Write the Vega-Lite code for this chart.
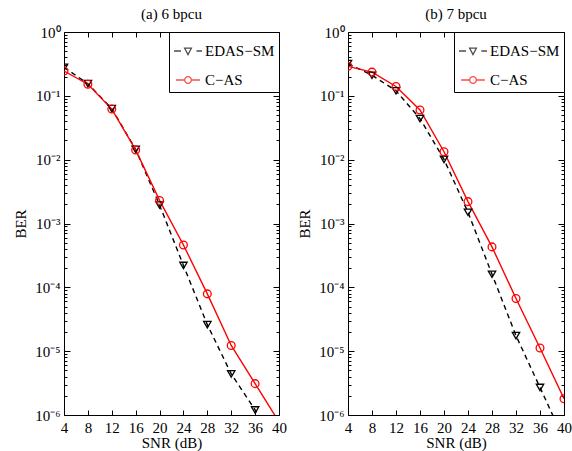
{
  "$schema": "https://vega.github.io/schema/vega-lite/v6.json",
  "padding": {"left": 13, "top": 6, "right": 10, "bottom": 0},
  "spacing": 10,
  "data": {"values": [
    {"panel": "a", "series": "EDAS−SM", "snr": 4, "ber": 0.28},
    {"panel": "a", "series": "EDAS−SM", "snr": 8, "ber": 0.155},
    {"panel": "a", "series": "EDAS−SM", "snr": 12, "ber": 0.063},
    {"panel": "a", "series": "EDAS−SM", "snr": 16, "ber": 0.0145},
    {"panel": "a", "series": "EDAS−SM", "snr": 20, "ber": 0.00195},
    {"panel": "a", "series": "EDAS−SM", "snr": 24, "ber": 0.00022},
    {"panel": "a", "series": "EDAS−SM", "snr": 28, "ber": 0.000026},
    {"panel": "a", "series": "EDAS−SM", "snr": 32, "ber": 0.0000044},
    {"panel": "a", "series": "EDAS−SM", "snr": 36, "ber": 0.0000012},
    {"panel": "a", "series": "EDAS−SM", "snr": 40, "ber": 0.00000033},
    {"panel": "a", "series": "C−AS", "snr": 4, "ber": 0.245},
    {"panel": "a", "series": "C−AS", "snr": 8, "ber": 0.152},
    {"panel": "a", "series": "C−AS", "snr": 12, "ber": 0.062},
    {"panel": "a", "series": "C−AS", "snr": 16, "ber": 0.0142},
    {"panel": "a", "series": "C−AS", "snr": 20, "ber": 0.0023},
    {"panel": "a", "series": "C−AS", "snr": 24, "ber": 0.00046},
    {"panel": "a", "series": "C−AS", "snr": 28, "ber": 0.000079},
    {"panel": "a", "series": "C−AS", "snr": 32, "ber": 0.0000123},
    {"panel": "a", "series": "C−AS", "snr": 36, "ber": 0.0000031},
    {"panel": "a", "series": "C−AS", "snr": 40, "ber": 0.00000078},
    {"panel": "b", "series": "EDAS−SM", "snr": 4, "ber": 0.32},
    {"panel": "b", "series": "EDAS−SM", "snr": 8, "ber": 0.21},
    {"panel": "b", "series": "EDAS−SM", "snr": 12, "ber": 0.12},
    {"panel": "b", "series": "EDAS−SM", "snr": 16, "ber": 0.044},
    {"panel": "b", "series": "EDAS−SM", "snr": 20, "ber": 0.0101},
    {"panel": "b", "series": "EDAS−SM", "snr": 24, "ber": 0.0015},
    {"panel": "b", "series": "EDAS−SM", "snr": 28, "ber": 0.00016},
    {"panel": "b", "series": "EDAS−SM", "snr": 32, "ber": 0.0000175},
    {"panel": "b", "series": "EDAS−SM", "snr": 36, "ber": 0.0000027},
    {"panel": "b", "series": "EDAS−SM", "snr": 40, "ber": 0.00000041},
    {"panel": "b", "series": "C−AS", "snr": 4, "ber": 0.29},
    {"panel": "b", "series": "C−AS", "snr": 8, "ber": 0.235},
    {"panel": "b", "series": "C−AS", "snr": 12, "ber": 0.14},
    {"panel": "b", "series": "C−AS", "snr": 16, "ber": 0.06},
    {"panel": "b", "series": "C−AS", "snr": 20, "ber": 0.0133},
    {"panel": "b", "series": "C−AS", "snr": 24, "ber": 0.0022},
    {"panel": "b", "series": "C−AS", "snr": 28, "ber": 0.00043},
    {"panel": "b", "series": "C−AS", "snr": 32, "ber": 0.000067},
    {"panel": "b", "series": "C−AS", "snr": 36, "ber": 0.0000112},
    {"panel": "b", "series": "C−AS", "snr": 40, "ber": 0.0000018}
  ]},
  "hconcat": [
    {
      "width": 215, "height": 383,
      "title": {"text": "(a) 6 bpcu", "offset": 3},
      "transform": [{"filter": "datum.panel == 'a'"}],
      "resolve": {"axis": {"x": "independent", "y": "independent"}},
      "layer": [
        {
          "transform": [{"filter": "datum.series == 'EDAS−SM'"}],
          "mark": {"type": "line", "color": "black", "strokeDash": [5, 4], "strokeWidth": 1.4, "clip": true},
          "encoding": {
            "x": {"field": "snr", "type": "quantitative", "scale": {"domain": [4, 40], "nice": false, "zero": false},
              "axis": {"orient": "bottom", "values": [4, 8, 12, 16, 20, 24, 28, 32, 36, 40], "tickSize": -5, "labelPadding": 10, "title": "SNR (dB)", "titlePadding": 0, "labelFlush": false, "labelOverlap": false}},
            "y": {"field": "ber", "type": "quantitative", "scale": {"type": "log", "domain": [0.000001, 1], "nice": false},
              "axis": {"orient": "left", "title": "BER", "titlePadding": 6,
                "values": [0.000001,0.000002,0.000003,0.000004,0.000005,0.000006,0.000007,0.000008,0.000009,0.00001,0.00002,0.00003,0.00004,0.00005,0.00006,0.00007,0.00008,0.00009,0.0001,0.0002,0.0003,0.0004,0.0005,0.0006,0.0007,0.0008,0.0009,0.001,0.002,0.003,0.004,0.005,0.006,0.007,0.008,0.009,0.01,0.02,0.03,0.04,0.05,0.06,0.07,0.08,0.09,0.1,0.2,0.3,0.4,0.5,0.6,0.7,0.8,0.9,1],
                "labelExpr": "abs(log(datum.value)/LN10 - round(log(datum.value)/LN10)) < 0.001 ? ['10⁰','10⁻¹','10⁻²','10⁻³','10⁻⁴','10⁻⁵','10⁻⁶'][-round(log(datum.value)/LN10)] : ''",
                "tickSize": {"condition": {"test": "abs(log(datum.value)/LN10 - round(log(datum.value)/LN10)) < 0.001", "value": -6}, "value": -3},
                "labelPadding": 10, "labelOverlap": false, "labelFlush": false}}
          }
        },
        {
          "transform": [{"filter": "datum.series == 'C−AS'"}],
          "mark": {"type": "line", "color": "#ff0000", "strokeWidth": 1.4, "clip": true},
          "encoding": {
            "x": {"field": "snr", "type": "quantitative",
              "axis": {"orient": "top", "values": [4, 8, 12, 16, 20, 24, 28, 32, 36, 40], "tickSize": -5, "labels": false, "title": null}},
            "y": {"field": "ber", "type": "quantitative",
              "axis": {"orient": "right", "labels": false, "title": null,
                "values": [0.000001,0.000002,0.000003,0.000004,0.000005,0.000006,0.000007,0.000008,0.000009,0.00001,0.00002,0.00003,0.00004,0.00005,0.00006,0.00007,0.00008,0.00009,0.0001,0.0002,0.0003,0.0004,0.0005,0.0006,0.0007,0.0008,0.0009,0.001,0.002,0.003,0.004,0.005,0.006,0.007,0.008,0.009,0.01,0.02,0.03,0.04,0.05,0.06,0.07,0.08,0.09,0.1,0.2,0.3,0.4,0.5,0.6,0.7,0.8,0.9,1],
                "tickSize": {"condition": {"test": "abs(log(datum.value)/LN10 - round(log(datum.value)/LN10)) < 0.001", "value": -6}, "value": -3}}}
          }
        },
        {
          "transform": [{"filter": "datum.series == 'EDAS−SM'"}],
          "mark": {"type": "point", "shape": "triangle-down", "filled": false, "color": "black", "size": 55, "strokeWidth": 1.3, "opacity": 1, "clip": true},
          "encoding": {
            "x": {"field": "snr", "type": "quantitative", "axis": null},
            "y": {"field": "ber", "type": "quantitative", "axis": null}
          }
        },
        {
          "transform": [{"filter": "datum.series == 'C−AS'"}],
          "mark": {"type": "point", "shape": "circle", "filled": false, "color": "#ff0000", "size": 60, "strokeWidth": 1.3, "opacity": 1, "clip": true},
          "encoding": {
            "x": {"field": "snr", "type": "quantitative", "axis": null},
            "y": {"field": "ber", "type": "quantitative", "axis": null}
          }
        },
        {
          "transform": [{"filter": "datum.snr < 0"}],
          "mark": {"type": "point", "filled": false, "strokeWidth": 1.3},
          "encoding": {
            "x": {"field": "snr", "type": "quantitative", "axis": null},
            "y": {"field": "ber", "type": "quantitative", "axis": null},
            "color": {"field": "series", "type": "nominal", "scale": {"domain": ["EDAS−SM", "C−AS"], "range": ["black", "#ff0000"]}, "legend": {"title": null}},
            "shape": {"field": "series", "type": "nominal", "scale": {"domain": ["EDAS−SM", "C−AS"], "range": ["M-1,0H-0.5M0.6,0H1M-0.24,-0.2L0.24,-0.2L0,0.25Z", "M-0.85,0H-0.24M0.24,0H0.85M-0.24,0A0.24,0.24,0,1,0,0.24,0A0.24,0.24,0,1,0,-0.24,0"]}, "legend": {"title": null}}
          }
        }
      ]
    },
    {
      "width": 216, "height": 383,
      "title": {"text": "(b) 7 bpcu", "offset": 3},
      "transform": [{"filter": "datum.panel == 'b'"}],
      "resolve": {"axis": {"x": "independent", "y": "independent"}},
      "layer": [
        {
          "transform": [{"filter": "datum.series == 'EDAS−SM'"}],
          "mark": {"type": "line", "color": "black", "strokeDash": [5, 4], "strokeWidth": 1.4, "clip": true},
          "encoding": {
            "x": {"field": "snr", "type": "quantitative", "scale": {"domain": [4, 40], "nice": false, "zero": false},
              "axis": {"orient": "bottom", "values": [4, 8, 12, 16, 20, 24, 28, 32, 36, 40], "tickSize": -5, "labelPadding": 10, "title": "SNR (dB)", "titlePadding": 0, "labelFlush": false, "labelOverlap": false}},
            "y": {"field": "ber", "type": "quantitative", "scale": {"type": "log", "domain": [0.000001, 1], "nice": false},
              "axis": {"orient": "left", "title": "BER", "titlePadding": 6,
                "values": [0.000001,0.000002,0.000003,0.000004,0.000005,0.000006,0.000007,0.000008,0.000009,0.00001,0.00002,0.00003,0.00004,0.00005,0.00006,0.00007,0.00008,0.00009,0.0001,0.0002,0.0003,0.0004,0.0005,0.0006,0.0007,0.0008,0.0009,0.001,0.002,0.003,0.004,0.005,0.006,0.007,0.008,0.009,0.01,0.02,0.03,0.04,0.05,0.06,0.07,0.08,0.09,0.1,0.2,0.3,0.4,0.5,0.6,0.7,0.8,0.9,1],
                "labelExpr": "abs(log(datum.value)/LN10 - round(log(datum.value)/LN10)) < 0.001 ? ['10⁰','10⁻¹','10⁻²','10⁻³','10⁻⁴','10⁻⁵','10⁻⁶'][-round(log(datum.value)/LN10)] : ''",
                "tickSize": {"condition": {"test": "abs(log(datum.value)/LN10 - round(log(datum.value)/LN10)) < 0.001", "value": -6}, "value": -3},
                "labelPadding": 10, "labelOverlap": false, "labelFlush": false}}
          }
        },
        {
          "transform": [{"filter": "datum.series == 'C−AS'"}],
          "mark": {"type": "line", "color": "#ff0000", "strokeWidth": 1.4, "clip": true},
          "encoding": {
            "x": {"field": "snr", "type": "quantitative",
              "axis": {"orient": "top", "values": [4, 8, 12, 16, 20, 24, 28, 32, 36, 40], "tickSize": -5, "labels": false, "title": null}},
            "y": {"field": "ber", "type": "quantitative",
              "axis": {"orient": "right", "labels": false, "title": null,
                "values": [0.000001,0.000002,0.000003,0.000004,0.000005,0.000006,0.000007,0.000008,0.000009,0.00001,0.00002,0.00003,0.00004,0.00005,0.00006,0.00007,0.00008,0.00009,0.0001,0.0002,0.0003,0.0004,0.0005,0.0006,0.0007,0.0008,0.0009,0.001,0.002,0.003,0.004,0.005,0.006,0.007,0.008,0.009,0.01,0.02,0.03,0.04,0.05,0.06,0.07,0.08,0.09,0.1,0.2,0.3,0.4,0.5,0.6,0.7,0.8,0.9,1],
                "tickSize": {"condition": {"test": "abs(log(datum.value)/LN10 - round(log(datum.value)/LN10)) < 0.001", "value": -6}, "value": -3}}}
          }
        },
        {
          "transform": [{"filter": "datum.series == 'EDAS−SM'"}],
          "mark": {"type": "point", "shape": "triangle-down", "filled": false, "color": "black", "size": 55, "strokeWidth": 1.3, "opacity": 1, "clip": true},
          "encoding": {
            "x": {"field": "snr", "type": "quantitative", "axis": null},
            "y": {"field": "ber", "type": "quantitative", "axis": null}
          }
        },
        {
          "transform": [{"filter": "datum.series == 'C−AS'"}],
          "mark": {"type": "point", "shape": "circle", "filled": false, "color": "#ff0000", "size": 60, "strokeWidth": 1.3, "opacity": 1, "clip": true},
          "encoding": {
            "x": {"field": "snr", "type": "quantitative", "axis": null},
            "y": {"field": "ber", "type": "quantitative", "axis": null}
          }
        },
        {
          "transform": [{"filter": "datum.snr < 0"}],
          "mark": {"type": "point", "filled": false, "strokeWidth": 1.3},
          "encoding": {
            "x": {"field": "snr", "type": "quantitative", "axis": null},
            "y": {"field": "ber", "type": "quantitative", "axis": null},
            "color": {"field": "series", "type": "nominal", "scale": {"domain": ["EDAS−SM", "C−AS"], "range": ["black", "#ff0000"]}, "legend": {"title": null}},
            "shape": {"field": "series", "type": "nominal", "scale": {"domain": ["EDAS−SM", "C−AS"], "range": ["M-1,0H-0.5M0.6,0H1M-0.24,-0.2L0.24,-0.2L0,0.25Z", "M-0.85,0H-0.24M0.24,0H0.85M-0.24,0A0.24,0.24,0,1,0,0.24,0A0.24,0.24,0,1,0,-0.24,0"]}, "legend": {"title": null}}
          }
        }
      ]
    }
  ],
  "resolve": {"scale": {"color": "independent", "shape": "independent"}, "legend": {"color": "independent", "shape": "independent"}},
  "config": {
    "font": "Liberation Serif",
    "view": {"stroke": "black", "strokeWidth": 1},
    "axis": {"domain": false, "grid": false, "labelFont": "Liberation Serif", "labelFontSize": 15, "labelColor": "black", "titleFont": "Liberation Serif", "titleFontSize": 15, "titleFontWeight": "normal", "titleColor": "black", "tickColor": "black", "tickWidth": 1},
    "title": {"font": "Liberation Serif", "fontSize": 15, "fontWeight": "normal", "color": "black"},
    "legend": {"orient": "top-right", "offset": 0, "padding": 4, "strokeColor": "black", "fillColor": "white", "labelFont": "Liberation Serif", "labelFontSize": 15, "labelColor": "black", "symbolSize": 784, "symbolStrokeWidth": 1.3, "rowPadding": 6, "labelOffset": 2}
  }
}
